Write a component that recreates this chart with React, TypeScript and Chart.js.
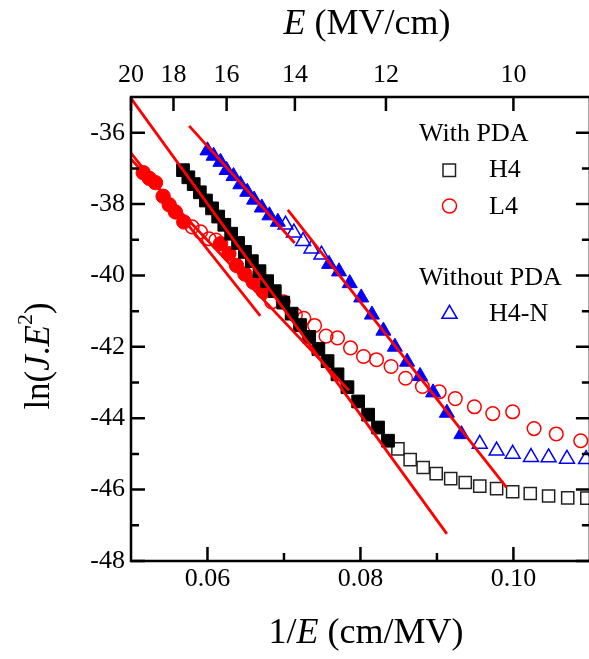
import React, { useEffect, useRef } from 'react';
import { Chart, registerables } from 'chart.js';

Chart.register(...registerables);

// ---------- tick labels ----------
const TOP_E_TICKS = [20, 18, 16, 14, 12, 10];
const BOTTOM_TICKS = [0.06, 0.08, 0.10];
const BOTTOM_MINOR = [0.07, 0.09];
const Y_TICKS = [-48, -46, -44, -42, -40, -38, -36];
const Y_MINOR = [-47, -45, -43, -41, -39, -37];

// ---------- H4 (with PDA), black squares ----------
const H4_FIT_X = [0.0568, 0.0575, 0.0582, 0.0590, 0.0598, 0.0606, 0.0614, 0.0622, 0.0631, 0.0640, 0.0649, 0.0658, 0.0668, 0.0678, 0.0688, 0.0699, 0.0710, 0.0721, 0.0733, 0.0745, 0.0757, 0.0770, 0.0783, 0.0797, 0.0810, 0.0823, 0.0836];
const H4_FIT_Y = [-37.05, -37.25, -37.44, -37.67, -37.90, -38.12, -38.35, -38.58, -38.83, -39.09, -39.34, -39.60, -39.88, -40.16, -40.44, -40.76, -41.07, -41.39, -41.72, -42.06, -42.40, -42.77, -43.13, -43.53, -43.90, -44.26, -44.63];
const H4_X = [0.0849, 0.0865, 0.0882, 0.0899, 0.0918, 0.0937, 0.0956, 0.0978, 0.0999, 0.1022, 0.1046, 0.1071, 0.1096];
const H4_Y = [-44.86, -45.16, -45.38, -45.55, -45.69, -45.80, -45.90, -45.97, -46.06, -46.11, -46.18, -46.23, -46.24];

// ---------- L4 (with PDA), red circles ----------
const L4_FIT_X = [0.0516, 0.0524, 0.0532, 0.0542, 0.0550, 0.0558, 0.0569, 0.0617, 0.0628, 0.0638, 0.0649, 0.0660, 0.0673];
const L4_FIT_Y = [-37.12, -37.28, -37.40, -37.78, -38.02, -38.22, -38.50, -39.11, -39.39, -39.72, -39.96, -40.19, -40.45];
const L4_X = [0.0580, 0.0591, 0.0602, 0.0611, 0.0684, 0.0699, 0.0715, 0.0726, 0.0740, 0.0755, 0.0770, 0.0787, 0.0804, 0.0821, 0.0840, 0.0859, 0.0881, 0.0903, 0.0924, 0.0949, 0.0973, 0.0999, 0.1027, 0.1056, 0.1088];
const L4_Y = [-38.64, -38.78, -38.97, -39.01, -40.74, -40.74, -41.11, -41.20, -41.40, -41.70, -41.75, -42.03, -42.27, -42.36, -42.55, -42.88, -43.11, -43.26, -43.45, -43.68, -43.87, -43.82, -44.29, -44.44, -44.63];

// ---------- H4-N (without PDA), blue triangles ----------
const HN_FIT1_X = [0.0600, 0.0608, 0.0617, 0.0625, 0.0634, 0.0643, 0.0652, 0.0661, 0.0671, 0.0681, 0.0692];
const HN_FIT1_Y = [-36.50, -36.65, -36.82, -37.05, -37.22, -37.45, -37.66, -37.88, -38.10, -38.32, -38.50];
const HN_MID_X = [0.0702, 0.0713, 0.0725, 0.0736, 0.0749];
const HN_MID_Y = [-38.58, -38.80, -39.04, -39.25, -39.42];
const HN_FIT2_X = [0.0759, 0.0772, 0.0786, 0.0801, 0.0815, 0.0830, 0.0845, 0.0861, 0.0878, 0.0895, 0.0913, 0.0932];
const HN_FIT2_Y = [-39.68, -39.89, -40.22, -40.62, -41.10, -41.55, -42.00, -42.42, -42.82, -43.28, -43.85, -44.45];
const HN_X = [0.0956, 0.0978, 0.0999, 0.1023, 0.1046, 0.1070, 0.1095];
const HN_Y = [-44.72, -44.91, -45.00, -45.09, -45.10, -45.14, -45.15];

// ---------- fitted lines (endpoints) ----------
const LINE_H4_X = [0.0500, 0.0913];
const LINE_H4_Y = [-35.04, -47.24];
const LINE_L4A_X = [0.0500, 0.0785];
const LINE_L4A_Y = [-36.74, -43.22];
const LINE_L4B_X = [0.0500, 0.0669];
const LINE_L4B_Y = [-36.57, -41.13];
const LINE_N1_X = [0.0576, 0.0714];
const LINE_N1_Y = [-35.81, -39.09];
const LINE_N2_X = [0.0705, 0.0991];
const LINE_N2_Y = [-38.16, -45.94];

const SERIF = '"Liberation Serif", "Times New Roman", serif';
const RED = '#ff0000';
const BLUE = '#0000ff';

const pts = (xs: number[], ys: number[]) => xs.map((x, i) => ({ x, y: ys[i] }));

type Part = { t: string; it?: boolean; sup?: boolean };

function drawRich(ctx: CanvasRenderingContext2D, parts: Part[], cx: number, cy: number, size: number) {
  const fontFor = (p: Part) => `${p.it ? 'italic ' : ''}${p.sup ? Math.round(size * 0.62) : size}px ${SERIF}`;
  let total = 0;
  const widths = parts.map((p) => {
    ctx.font = fontFor(p);
    const w = ctx.measureText(p.t).width;
    total += w;
    return w;
  });
  let x = cx - total / 2;
  ctx.textAlign = 'left';
  ctx.textBaseline = 'middle';
  parts.forEach((p, i) => {
    ctx.font = fontFor(p);
    ctx.fillText(p.t, x, p.sup ? cy - size * 0.4 : cy);
    x += widths[i];
  });
}

const decorPlugin = {
  id: 'decor',
  afterDraw(chart: any) {
    const { ctx, chartArea: a, scales } = chart;
    const xs = scales.x;
    const ys = scales.y;
    const MAJ = 14;
    const MIN = 8;
    ctx.save();
    ctx.strokeStyle = '#000';
    ctx.fillStyle = '#000';
    ctx.lineWidth = 2.5;
    ctx.strokeRect(a.left, a.top, a.right - a.left, a.bottom - a.top);
    ctx.beginPath();
    const yTick = (v: number, len: number) => {
      const p = ys.getPixelForValue(v);
      ctx.moveTo(a.left, p);
      ctx.lineTo(a.left + len, p);
      ctx.moveTo(a.right, p);
      ctx.lineTo(a.right - len, p);
    };
    Y_TICKS.forEach((v) => yTick(v, MAJ));
    Y_MINOR.forEach((v) => yTick(v, MIN));
    BOTTOM_TICKS.forEach((v) => {
      const p = xs.getPixelForValue(v);
      ctx.moveTo(p, a.bottom);
      ctx.lineTo(p, a.bottom - MAJ);
    });
    BOTTOM_MINOR.forEach((v) => {
      const p = xs.getPixelForValue(v);
      ctx.moveTo(p, a.bottom);
      ctx.lineTo(p, a.bottom - MIN);
    });
    TOP_E_TICKS.forEach((e) => {
      const p = xs.getPixelForValue(1 / e);
      ctx.moveTo(p, a.top);
      ctx.lineTo(p, a.top + MAJ);
    });
    ctx.stroke();

    // axis titles
    drawRich(ctx, [{ t: 'E', it: true }, { t: ' (MV/cm)' }], 367, 25, 36);
    drawRich(ctx, [{ t: '1/' }, { t: 'E', it: true }, { t: ' (cm/MV)' }], 366, 634, 36);
    ctx.save();
    ctx.translate(40, 356);
    ctx.rotate(-Math.PI / 2);
    drawRich(ctx, [{ t: 'ln(' }, { t: 'J', it: true }, { t: '.' }, { t: 'E', it: true }, { t: '2', sup: true }, { t: ')' }], 0, 0, 35);
    ctx.restore();

    // legend
    ctx.font = `26px ${SERIF}`;
    ctx.textAlign = 'left';
    ctx.textBaseline = 'middle';
    ctx.fillStyle = '#000';
    ctx.fillText('With PDA', 419, 134);
    ctx.fillText('H4', 489, 170);
    ctx.fillText('L4', 489, 207);
    ctx.fillText('Without PDA', 419, 278);
    ctx.fillText('H4-N', 489, 314);
    ctx.lineWidth = 1.5;
    ctx.strokeStyle = '#222';
    ctx.strokeRect(443, 164, 12.5, 12.5);
    ctx.strokeStyle = RED;
    ctx.beginPath();
    ctx.arc(449.5, 206, 7, 0, Math.PI * 2);
    ctx.stroke();
    ctx.strokeStyle = BLUE;
    const r = 8.7;
    const cx = 449.5, cy = 314;
    ctx.beginPath();
    ctx.moveTo(cx, cy - r);
    ctx.lineTo(cx + r * Math.sin(Math.PI * 2 / 3), cy - r * Math.cos(Math.PI * 2 / 3));
    ctx.lineTo(cx + r * Math.sin(Math.PI * 4 / 3), cy - r * Math.cos(Math.PI * 4 / 3));
    ctx.closePath();
    ctx.stroke();
    ctx.restore();
  },
};

export default function App() {
  const ref = useRef<HTMLCanvasElement | null>(null);

  useEffect(() => {
    if (!ref.current) return;
    const tickFont = { family: SERIF, size: 26 };
    const lineDs = (xs: number[], ys: number[]) => ({
      data: pts(xs, ys),
      showLine: true,
      borderColor: RED,
      borderWidth: 2.8,
      pointRadius: 0,
      fill: false,
      order: 0,
    });
    const markerDs = (xs: number[], ys: number[], style: string, radius: number, color: string, filled: boolean, order: number) => ({
      data: pts(xs, ys),
      showLine: false,
      pointStyle: style,
      pointRadius: radius,
      pointBackgroundColor: filled ? color : 'rgba(0,0,0,0)',
      pointBorderColor: color,
      pointBorderWidth: filled ? 1 : 1.5,
      order,
    });

    const chart = new Chart(ref.current, {
      type: 'scatter',
      data: {
        datasets: [
          lineDs(LINE_H4_X, LINE_H4_Y),
          lineDs(LINE_L4A_X, LINE_L4A_Y),
          lineDs(LINE_L4B_X, LINE_L4B_Y),
          lineDs(LINE_N1_X, LINE_N1_Y),
          lineDs(LINE_N2_X, LINE_N2_Y),
          markerDs(H4_FIT_X, H4_FIT_Y, 'rect', 9, '#000000', true, 1),
          markerDs(L4_FIT_X, L4_FIT_Y, 'circle', 7.2, RED, true, 1),
          markerDs(HN_FIT1_X, HN_FIT1_Y, 'triangle', 8.7, BLUE, true, 1),
          markerDs(HN_FIT2_X, HN_FIT2_Y, 'triangle', 8.7, BLUE, true, 1),
          markerDs(H4_X, H4_Y, 'rect', 8.6, '#222222', false, 2),
          markerDs(L4_X, L4_Y, 'circle', 6.8, RED, false, 2),
          markerDs(HN_MID_X, HN_MID_Y, 'triangle', 8.6, BLUE, false, 2),
          markerDs(HN_X, HN_Y, 'triangle', 8.6, BLUE, false, 2),
        ] as any,
      },
      options: {
        responsive: false,
        maintainAspectRatio: false,
        animation: false,
        devicePixelRatio: 1,
        layout: { padding: { left: 0, right: 3.4, top: 0, bottom: 0 } },
        plugins: { legend: { display: false }, tooltip: { enabled: false } },
        scales: {
          x: {
            type: 'linear',
            position: 'bottom',
            min: 0.05,
            max: 0.11,
            afterFit: (s: any) => { s.height = 98; },
            afterBuildTicks: (s: any) => { s.ticks = BOTTOM_TICKS.map((v) => ({ value: v })); },
            ticks: { font: tickFont, color: '#000', padding: 3, autoSkip: false, maxRotation: 0, callback: (v: any) => Number(v).toFixed(2) },
            grid: { display: false, drawTicks: false },
            border: { display: false },
          },
          x2: {
            type: 'linear',
            position: 'top',
            min: 0.05,
            max: 0.11,
            afterFit: (s: any) => { s.height = 97; },
            afterBuildTicks: (s: any) => { s.ticks = TOP_E_TICKS.map((e) => ({ value: 1 / e })); },
            ticks: { font: tickFont, color: '#000', padding: 6, autoSkip: false, maxRotation: 0, callback: (v: any) => String(Math.round(1 / Number(v))) },
            grid: { display: false, drawTicks: false },
            border: { display: false },
          },
          y: {
            type: 'linear',
            position: 'left',
            min: -48,
            max: -35,
            afterFit: (s: any) => { s.width = 131; },
            afterBuildTicks: (s: any) => { s.ticks = Y_TICKS.map((v) => ({ value: v })); },
            ticks: { font: tickFont, color: '#000', padding: 6, autoSkip: false, callback: (v: any) => String(v) },
            grid: { display: false, drawTicks: false },
            border: { display: false },
          },
        },
      } as any,
      plugins: [decorPlugin],
    });
    return () => chart.destroy();
  }, []);

  return (
    <div style={{ position: 'fixed', left: 0, top: 0, width: 589, height: 659, overflow: 'hidden', background: '#ffffff' }}>
      <canvas ref={ref} width={600} height={659} style={{ display: 'block' }} />
    </div>
  );
}
